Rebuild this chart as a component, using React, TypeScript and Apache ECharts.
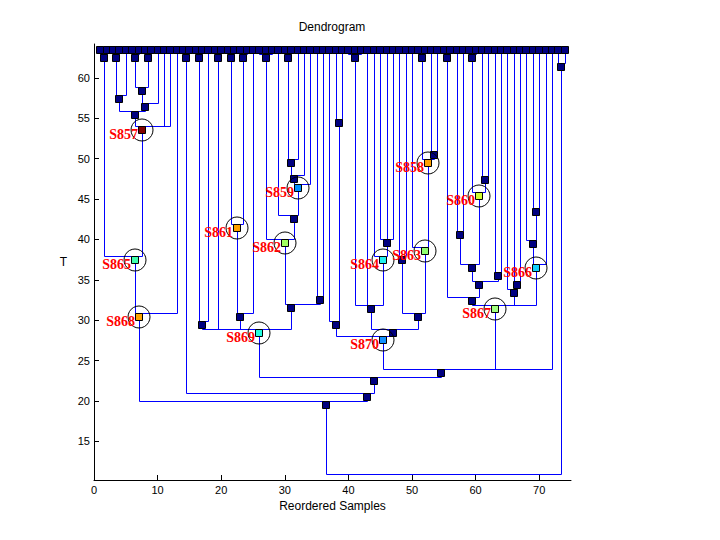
import React, { useEffect, useRef } from "react";
import * as echarts from "echarts";

const LEAF_COUNT = 74;
const LEAF_HEIGHT = 64;
const xTicks = [0, 10, 20, 30, 40, 50, 60, 70];
const yTicks = [15, 20, 25, 30, 35, 40, 45, 50, 55, 60];

// cluster tree: id, merge height (T), children (numbers = reordered sample positions)
const nodeIds = [
  "P1", "P3", "P6", "P8", "P14", "P16", "P19", "P21", "P23", "P26", "P30", "P40", "P51", "P55", "P59", "P73",
  "A", "P6_8", "C", "B", "S857", "S865", "S868",
  "I", "S861", "J", "N", "O", "S859", "P29", "S862", "L", "K", "S869",
  "Q", "R", "DD", "S864", "T", "N48", "N53", "S858", "S863", "U", "S", "S870",
  "V", "X", "S860", "W", "AA", "Z", "Y", "FF", "EE", "GG", "HH", "S866", "S867",
  "D", "E", "G", "H", "ROOT",
];
const nodeHeights = [
  62.9, 62.9, 62.9, 62.9, 62.9, 62.9, 62.9, 62.9, 62.9, 62.9, 62.9, 62.9, 62.9, 62.9, 62.9, 61.9,
  57.9, 58.9, 56.9, 55.9, 54.0, 38.0, 30.9,
  29.9, 41.9, 30.9, 49.9, 48.0, 46.9, 43.0, 40.0, 33.0, 32.0, 28.9,
  54.9, 29.9, 40.0, 38.0, 31.9, 38.0, 51.0, 49.9, 39.0, 30.9, 28.9, 28.0,
  41.0, 47.9, 45.9, 36.9, 35.9, 34.9, 32.9, 34.9, 33.9, 43.9, 39.9, 36.9, 31.9,
  24.0, 23.0, 21.0, 20.0, 11.0,
];
const nodeChildren: (number | string)[][] = [
  [1, 2], [3, 4], [6, 7], [8, 9], [14, 15], [16, 17], [19, 20], [21, 22], [23, 24], [26, 27, 28], [30, 31], [40, 41, 42], [51, 52], [55, 56], [59, 60], [73, 74],
  ["P3", 5], ["P6", "P8"], ["P6_8", 10], ["A", "C"], ["B", 11, 12], ["P1", "S857"], ["S865", 13],
  ["P16", 18], ["P21", "P23"], ["S861", 25], ["P30", 32], ["N", 33], ["O", 34], [29, "S859"], ["P26", "P29"], [35, 36], ["S862", "L"], ["I", "P19", "J", "K"],
  [38, 39], [37, "Q"], [45, 46, 47], [44, "DD"], ["P40", 43, "S864"], [48, 49], [53, 54], ["P51", "N53"], [50, "S858"], ["N48", "S863"], ["T", "U"], ["R", "S"],
  [57, 58], [61, 62], ["P59", "X"], ["V", "S860"], [63, 64], ["W", "AA"], ["P55", "Z"], [66, 67], [65, "FF"], [69, 70], [68, "GG"], ["HH", 71], ["Y", "EE", "S866"],
  ["S870", "S867", 72], ["S869", "D"], ["P14", "E"], ["S868", "G"], ["H", "P73"],
];

const labelNames = ["S857", "S865", "S868", "S861", "S862", "S859", "S869", "S864", "S863", "S858", "S860", "S870", "S867", "S866"];
const labelColors = ["#800000", "#40ffb0", "#ffa500", "#ffa000", "#a0ff60", "#0090ff", "#20ffe0", "#20f0f0", "#90ff70", "#ffa000", "#d0ff30", "#1090ff", "#a0ff80", "#10d0ff"];

function buildTree() {
  const idx = new Map<string, number>(nodeIds.map((id, i) => [id, i]));
  const leavesOf = (c: number | string): number[] =>
    typeof c === "number" ? [c] : nodeChildren[idx.get(c)!].flatMap(leavesOf);
  const xOf = (c: number | string) => {
    const l = leavesOf(c);
    return l.reduce((a, b) => a + b, 0) / l.length;
  };
  const hOf = (c: number | string) => (typeof c === "number" ? LEAF_HEIGHT : nodeHeights[idx.get(c)!]);
  const segments: number[][] = [];
  const nodes: { id: string; x: number; h: number }[] = [];
  nodeIds.forEach((id, i) => {
    const h = nodeHeights[i];
    const xs = nodeChildren[i].map(xOf);
    segments.push([Math.min(...xs), h, Math.max(...xs), h]);
    nodeChildren[i].forEach((c, k) => segments.push([xs[k], hOf(c), xs[k], h]));
    nodes.push({ id, x: xOf(id), h });
  });
  return { segments, nodes };
}

const snap = (v: number) => Math.round(v) + 0.5;

export default function App() {
  const ref = useRef<HTMLDivElement>(null);
  useEffect(() => {
    if (!ref.current) return;
    const chart = echarts.init(ref.current, undefined, { renderer: "svg" });
    const { segments, nodes } = buildTree();
    // marker rows: [x, T, labelIndex]  (-1 = plain navy square)
    const markers: number[][] = [];
    for (let i = 1; i <= LEAF_COUNT; i++) markers.push([i, LEAF_HEIGHT, -1]);
    nodes.forEach((n) => {
      if (n.id === "ROOT") return;
      if (!labelNames.includes(n.id)) markers.push([n.x, n.h, -1]);
    });
    labelNames.forEach((name, li) => {
      const n = nodes.find((m) => m.id === name)!;
      markers.push([n.x, n.h, li]);
    });
    const font = "Liberation Sans";
    chart.setOption({
      animation: false,
      backgroundColor: "#ffffff",
      grid: { left: 94, right: 149, top: 44, bottom: 60 },
      graphic: [
        {
          type: "text",
          x: 332,
          y: 27,
          style: { text: "Dendrogram", fontFamily: font, fontSize: 12, fill: "#000", textAlign: "center", textVerticalAlign: "middle" },
        },
      ],
      xAxis: {
        type: "value",
        min: 0,
        max: 75,
        name: "Reordered Samples",
        nameLocation: "middle",
        nameGap: 20,
        nameTextStyle: { fontFamily: font, fontSize: 12, color: "#000" },
        axisLine: { lineStyle: { color: "#000", width: 1 } },
        axisTick: { inside: true, length: 5, lineStyle: { color: "#000" }, customValues: xTicks },
        axisLabel: { fontFamily: font, fontSize: 11, color: "#000", margin: 4, customValues: xTicks },
        splitLine: { show: false },
      },
      yAxis: {
        type: "value",
        min: 10.2,
        max: 64.2,
        name: "T",
        nameLocation: "middle",
        nameRotate: 0,
        nameGap: 27,
        nameTextStyle: { fontFamily: font, fontSize: 12, color: "#000" },
        axisLine: { lineStyle: { color: "#000", width: 1 } },
        axisTick: { inside: true, length: 5, lineStyle: { color: "#000" }, customValues: yTicks },
        axisLabel: { fontFamily: font, fontSize: 11, color: "#000", margin: 4, customValues: yTicks },
        splitLine: { show: false },
      },
      series: [
        {
          type: "custom",
          data: segments,
          encode: { x: [0, 2], y: [1, 3] },
          renderItem: (_params: any, api: any) => {
            const p1 = api.coord([api.value(0), api.value(1)]);
            const p2 = api.coord([api.value(2), api.value(3)]);
            return {
              type: "line",
              shape: { x1: snap(p1[0]), y1: snap(p1[1]), x2: snap(p2[0]), y2: snap(p2[1]) },
              style: { stroke: "#0000ff", lineWidth: 1 },
            };
          },
          z: 1,
        },
        {
          type: "custom",
          data: markers,
          encode: { x: 0, y: 1 },
          clip: false,
          renderItem: (_params: any, api: any) => {
            const p = api.coord([api.value(0), api.value(1)]);
            const li = api.value(2);
            const cx = Math.round(p[0]);
            const cy = Math.round(p[1]) + 4;
            const rect = {
              type: "rect",
              shape: { x: cx - 4 + 0.5, y: cy - 4 + 0.5, width: 7, height: 7 },
              style: { fill: li >= 0 ? labelColors[li] : "#000080", stroke: "#000", lineWidth: 1 },
            };
            if (li < 0) return rect;
            return {
              type: "group",
              children: [
                {
                  type: "circle",
                  shape: { cx: cx, cy: cy, r: 11 },
                  style: { fill: "none", stroke: "#000", lineWidth: 1 },
                },
                rect,
                {
                  type: "text",
                  x: cx - 4,
                  y: cy + 4,
                  style: {
                    text: labelNames[li],
                    fill: "#ff0000",
                    fontFamily: "Liberation Serif",
                    fontWeight: "bold",
                    fontSize: 14,
                    textAlign: "right",
                    textVerticalAlign: "middle",
                  },
                },
              ],
            };
          },
          z: 2,
        },
      ],
    });
    return () => chart.dispose();
  }, []);
  return (
    <div
      ref={ref}
      style={{ position: "absolute", left: 0, top: 0, width: "720px", height: "540px", background: "#fff" }}
    />
  );
}
